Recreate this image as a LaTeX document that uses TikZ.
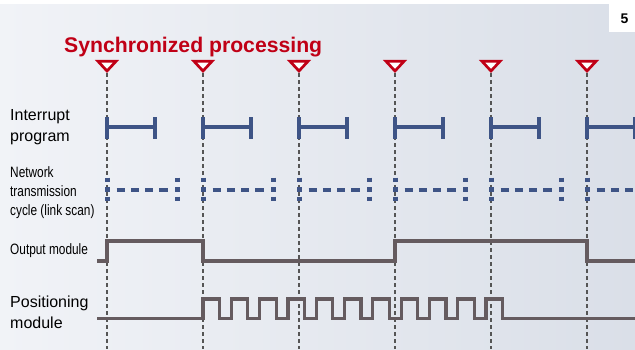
\documentclass[tikz,border=0pt]{standalone}
\usepackage{fontspec}
\setmainfont{Liberation Sans}
\newfontfamily\narrowfont[FakeStretch=0.79]{Liberation Sans}
\definecolor{syncred}{RGB}{192,0,22}
\definecolor{cycleblue}{RGB}{62,84,134}
\definecolor{signalgray}{RGB}{101,91,95}
\definecolor{guidegray}{RGB}{85,85,85}
\definecolor{bgleft}{RGB}{241,243,247}
\definecolor{bgright}{RGB}{218,223,232}

\begin{document}
\begin{tikzpicture}[
        x=1pt, y=-1pt,
        rowlabel/.style={anchor=base west, inner sep=0pt, align=left, font=\fontsize{16}{21}\selectfont},
        narrowlabel/.style={anchor=base west, inner sep=0pt, align=left, font=\narrowfont\fontsize{15}{19.2}\selectfont},
        guide/.style={guidegray, line width=1.1pt, dash pattern=on 4pt off 3pt},
        trigger/.style={draw=syncred, fill=white, line width=2.7pt, line join=miter},
        interrupt/.style={cycleblue, line width=3.2pt},
        linktick/.style={cycleblue, line width=5pt, dash pattern=on 4.5pt off 5pt},
        linkdash/.style={cycleblue, line width=4pt, dash pattern=on 8.3pt off 5.9pt},
        signal/.style={signalgray, line width=3.2pt, line join=miter}
    ]

    % Background and page number box
    \useasboundingbox (0,0) rectangle (635,349);
    \fill[left color=bgleft, right color=bgright] (0,4) rectangle (635,349);
    \fill[white] (609,0) rectangle (635,32);
    \node[anchor=base west, inner sep=0pt, font=\bfseries\fontsize{14}{16}\selectfont] (page) at (620.5,23) {5};

    % Title
    \node[anchor=base west, inner sep=0pt, text=syncred, font=\bfseries\fontsize{21.2}{25}\selectfont] (title) at (64,52.5) {Synchronized processing};

    % Sync points: triangles and guide lines
    \foreach \s [count=\i] in {107,203,299,395,491,587} {
        \coordinate (s\i) at (\s,71);
        \draw[guide] (\s,73) -- (\s,349);
        \draw[trigger] (\s-9,61.3) -- (\s+9,61.3) -- (s\i) -- cycle;
    }

    \begin{scope}
    \clip (0,0) rectangle (635,349);

    % Interrupt program
    \foreach \s in {107,203,299,395,491,587} {
        \draw[interrupt] (\s,117) -- (\s,139) (\s,127) -- (\s+48,127) (\s+48,117) -- (\s+48,139);
    }

    % Network transmission cycle
    \foreach \s in {107,203,299,395,491,587} {
        \draw[linkdash] (\s+9.7,189.5) -- (\s+60.6,189.5);
        \draw[linktick] (\s,177.5) -- (\s,202);
        \draw[linktick] (\s+70.5,177.5) -- (\s+70.5,202);
    }

    % Output module
    \draw[signal] (97,261) -- (107,261) -- (107,241) -- (203,241) -- (203,261)
        -- (395,261) -- (395,241) -- (587,241) -- (587,261) -- (635,261);

    % Positioning module
    \draw[signal] (97,318.5) foreach \k in {0,...,10} {
        -- ({203+28.3*\k},318.5) -- ++(0,-19.5) -- ++(16.5,0) -- ++(0,19.5)
    } -- (635,318.5);
    \end{scope}

    % Row labels (base = last line)
    \node[rowlabel] (intlbl) at (10,141) {Interrupt\\program};
    \node[narrowlabel] (netlbl) at (10,215.7) {Network\\transmission\\cycle (link scan)};
    \node[narrowlabel] (outlbl) at (10,254) {Output module};
    \node[rowlabel] (poslbl) at (10,328) {Positioning\\module};

    \end{tikzpicture}
\end{document}
